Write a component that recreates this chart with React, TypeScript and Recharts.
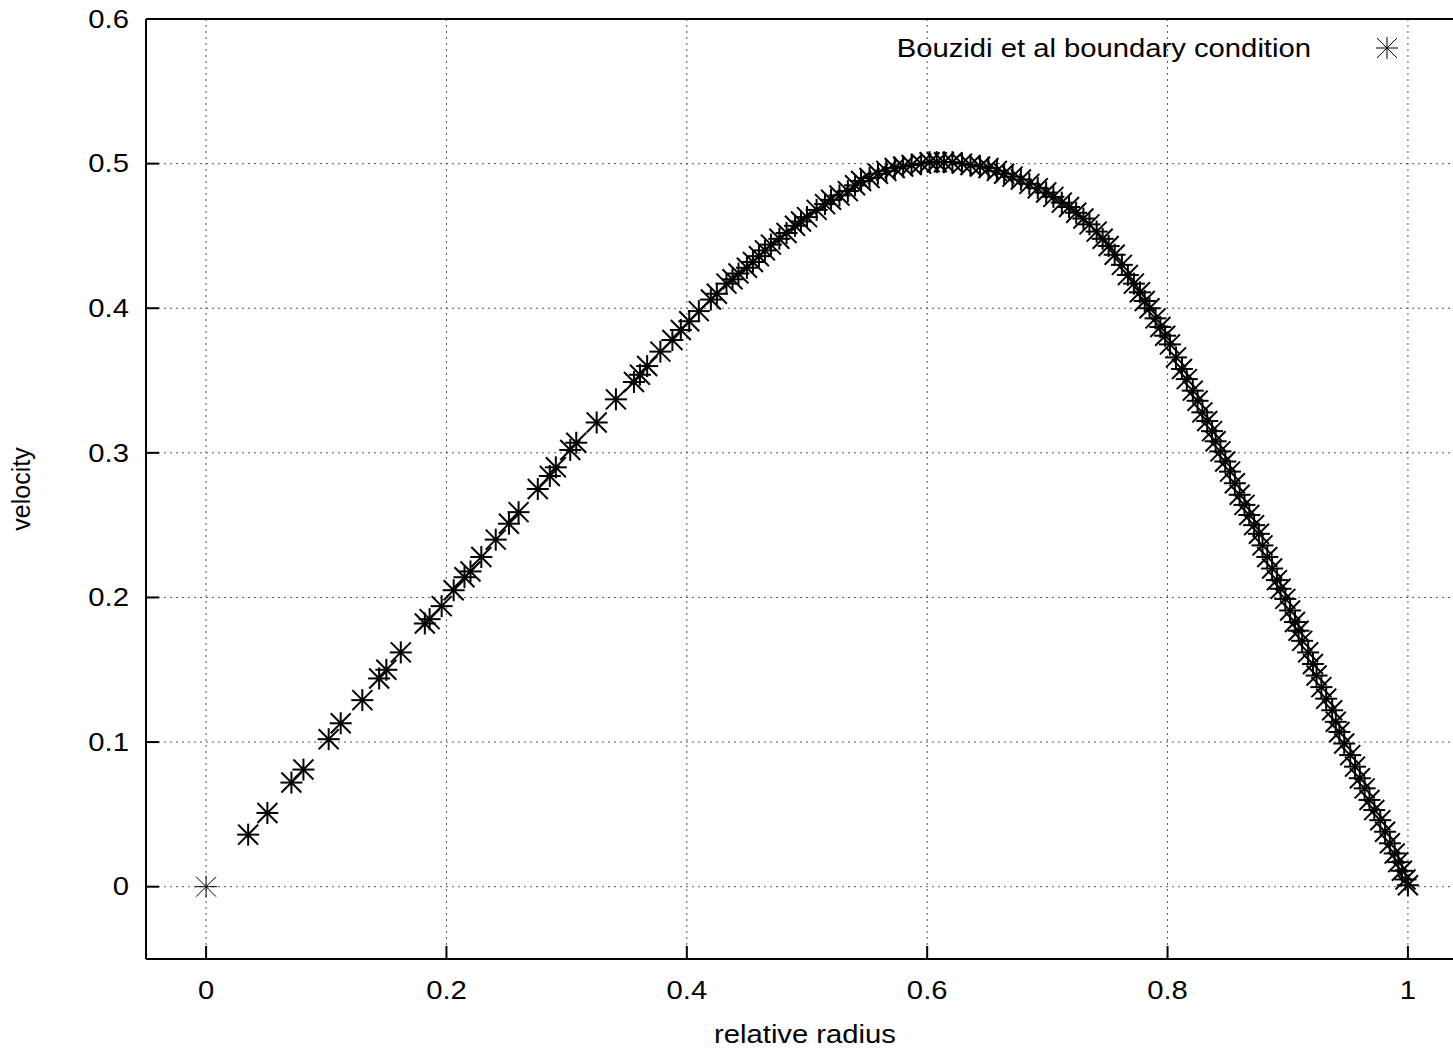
import React from "react";
import {
  ScatterChart,
  Scatter,
  XAxis,
  YAxis,
  CartesianGrid,
} from "recharts";

// relative radius / velocity pairs
const radius = [
  0, 0.035, 0.051, 0.071, 0.081, 0.102, 0.112, 0.13, 0.144, 0.15, 0.162,
  0.182, 0.186, 0.196, 0.206, 0.215, 0.22, 0.229, 0.241, 0.252, 0.26, 0.276,
  0.286, 0.291, 0.303, 0.308, 0.325, 0.341, 0.356, 0.361, 0.367, 0.378, 0.388,
  0.395, 0.402, 0.41, 0.42, 0.425, 0.433, 0.438, 0.443, 0.45, 0.455, 0.46,
  0.465, 0.47, 0.477, 0.483, 0.49, 0.495, 0.5, 0.508, 0.515, 0.52, 0.527,
  0.534, 0.54, 0.545, 0.552, 0.559, 0.566, 0.573, 0.58, 0.587, 0.595, 0.602,
  0.608, 0.614, 0.621, 0.629, 0.636, 0.644, 0.651, 0.658, 0.664, 0.671, 0.678,
  0.685, 0.692, 0.699, 0.705, 0.712, 0.718, 0.724, 0.73, 0.735, 0.741, 0.746,
  0.751, 0.756, 0.762, 0.767, 0.772, 0.777, 0.781, 0.785, 0.79, 0.794, 0.798,
  0.802, 0.807, 0.812, 0.816, 0.821, 0.825, 0.829, 0.833, 0.837, 0.84, 0.844,
  0.848, 0.852, 0.856, 0.86, 0.864, 0.868, 0.872, 0.876, 0.879, 0.883, 0.887,
  0.891, 0.894, 0.898, 0.902, 0.906, 0.909, 0.912, 0.917, 0.921, 0.924, 0.928,
  0.932, 0.937, 0.94, 0.943, 0.947, 0.952, 0.956, 0.96, 0.964, 0.968, 0.972,
  0.977, 0.981, 0.985, 0.989, 0.992, 0.995, 0.998, 1.0,
];

const velocity = [
  0, 0.036, 0.051, 0.072, 0.081, 0.102, 0.113, 0.129, 0.144, 0.15, 0.162,
  0.182, 0.185, 0.194, 0.205, 0.214, 0.218, 0.228, 0.24, 0.251, 0.259, 0.275,
  0.284, 0.29, 0.302, 0.307, 0.321, 0.337, 0.349, 0.354, 0.36, 0.37, 0.378,
  0.385, 0.391, 0.398, 0.406, 0.41, 0.417, 0.42, 0.424, 0.428, 0.432, 0.436,
  0.44, 0.444, 0.448, 0.452, 0.457, 0.46, 0.463, 0.468, 0.472, 0.475, 0.478,
  0.481, 0.485, 0.488, 0.49, 0.493, 0.495, 0.497, 0.498, 0.499, 0.5, 0.501,
  0.501, 0.501, 0.501, 0.5, 0.499, 0.498, 0.497, 0.495, 0.493, 0.491, 0.489,
  0.486, 0.483, 0.48, 0.477, 0.473, 0.47, 0.466, 0.462, 0.458, 0.453, 0.448,
  0.443, 0.437, 0.43, 0.423, 0.417, 0.411, 0.405, 0.4, 0.393, 0.387, 0.381,
  0.375, 0.366, 0.358, 0.351, 0.343, 0.336, 0.328, 0.322, 0.315, 0.308, 0.301,
  0.294, 0.287, 0.279, 0.271, 0.264, 0.257, 0.25, 0.244, 0.236, 0.228, 0.22,
  0.212, 0.206, 0.199, 0.191, 0.183, 0.177, 0.17, 0.162, 0.154, 0.146, 0.138,
  0.13, 0.122, 0.114, 0.107, 0.099, 0.091, 0.083, 0.075, 0.068, 0.06, 0.053,
  0.046, 0.038, 0.03, 0.023, 0.017, 0.011, 0.005, 0.001,
];

const xTicks = [0, 0.2, 0.4, 0.6, 0.8, 1];
const yTicks = [0, 0.1, 0.2, 0.3, 0.4, 0.5, 0.6];

const data = radius.map((r, i) => ({ r, v: velocity[i] }));

const FONT = "'Liberation Sans', Arial, Helvetica, sans-serif";
const FONT_SIZE = 25;
const STRETCH = 1.17; // original text is a bit wider than Arial
const TICK_LEN = 13;

function Star({ cx, cy, w = 1.5 }: { cx: number; cy: number; w?: number }) {
  const a = 11;
  const d = 10;
  return (
    <g stroke="#000" strokeWidth={w}>
      <line x1={cx - a} y1={cy} x2={cx + a} y2={cy} />
      <line x1={cx} y1={cy - a} x2={cx} y2={cy + a} />
      <line x1={cx - d} y1={cy - d} x2={cx + d} y2={cy + d} />
      <line x1={cx - d} y1={cy + d} x2={cx + d} y2={cy - d} />
    </g>
  );
}

const BottomTick = ({ x, y, payload }: any) => (
  <g>
    <line x1={x} y1={y} x2={x} y2={y - TICK_LEN} stroke="#000" strokeWidth={2} />
    <text
      transform={`translate(${x},${y + 31}) scale(${STRETCH},1)`}
      textAnchor="middle"
      dominantBaseline="central"
      fontFamily={FONT}
      fontSize={FONT_SIZE}
      fill="#000"
    >
      {payload.value}
    </text>
  </g>
);

const TopTick = ({ x, y }: any) => (
  <line x1={x} y1={y} x2={x} y2={y + TICK_LEN} stroke="#000" strokeWidth={2} />
);

const LeftTick = ({ x, y, payload }: any) => (
  <g>
    <line x1={x} y1={y} x2={x + TICK_LEN} y2={y} stroke="#000" strokeWidth={2} />
    <text
      transform={`translate(${x - 17},${y}) scale(${STRETCH},1)`}
      textAnchor="end"
      dominantBaseline="central"
      fontFamily={FONT}
      fontSize={FONT_SIZE}
      fill="#000"
    >
      {payload.value}
    </text>
  </g>
);

const RightTick = ({ x, y }: any) => (
  <line x1={x} y1={y} x2={x - TICK_LEN} y2={y} stroke="#000" strokeWidth={2} />
);

const axisLine = { stroke: "#000", strokeWidth: 2 };

export default function App() {
  return (
    <div
      style={{
        position: "absolute",
        left: 0,
        top: 0,
        width: 1453,
        height: 1049,
        overflow: "hidden",
        background: "#fff",
      }}
    >
      <ScatterChart
        width={1500}
        height={1049}
        margin={{ top: 0, right: 0, bottom: 0, left: 0 }}
      >
        <CartesianGrid
          stroke="#555"
          strokeWidth={1}
          strokeDasharray="2 4"
          horizontalValues={yTicks}
          verticalValues={xTicks}
        />
        <XAxis
          type="number"
          dataKey="r"
          domain={[-0.05, 1.05]}
          ticks={xTicks}
          height={90}
          tickSize={0}
          tickMargin={0}
          tickLine={false}
          axisLine={axisLine}
          tick={<BottomTick />}
          allowDataOverflow
          label={{
            content: ({ viewBox }: any) => (
              <text
                transform={`translate(${viewBox.x + viewBox.width / 2 - 2},1043) scale(${STRETCH},1)`}
                textAnchor="middle"
                fontFamily={FONT}
                fontSize={FONT_SIZE}
                fill="#000"
              >
                relative radius
              </text>
            ),
          }}
        />
        <XAxis
          xAxisId="top"
          orientation="top"
          type="number"
          domain={[-0.05, 1.05]}
          ticks={xTicks}
          height={19}
          tickSize={0}
          tickMargin={0}
          tickLine={false}
          axisLine={axisLine}
          tick={<TopTick />}
          allowDataOverflow
        />
        <YAxis
          type="number"
          dataKey="v"
          domain={[-0.05, 0.6]}
          ticks={yTicks}
          width={146}
          tickSize={0}
          tickMargin={0}
          tickLine={false}
          axisLine={axisLine}
          tick={<LeftTick />}
          allowDataOverflow
          label={{
            content: ({ viewBox }: any) => {
              const cy = viewBox.y + viewBox.height / 2;
              return (
                <text
                  transform={`translate(30,${cy}) rotate(-90)`}
                  textAnchor="middle"
                  fontFamily={FONT}
                  fontSize={FONT_SIZE}
                  fill="#000"
                >
                  velocity
                </text>
              );
            },
          }}
        />
        <YAxis
          yAxisId="right"
          orientation="right"
          type="number"
          domain={[-0.05, 0.6]}
          ticks={yTicks}
          width={32}
          tickSize={0}
          tickMargin={0}
          tickLine={false}
          axisLine={axisLine}
          tick={<RightTick />}
          allowDataOverflow
        />
        <Scatter
          name="Bouzidi et al boundary condition"
          data={data}
          isAnimationActive={false}
          shape={(p: any) => <Star cx={p.cx} cy={p.cy} w={p.index === 0 ? 1 : 2} />}
        />
      </ScatterChart>
      <svg
        width={1453}
        height={90}
        style={{ position: "absolute", left: 0, top: 0, pointerEvents: "none" }}
      >
        <text
          transform={`translate(1311,48) scale(${STRETCH},1)`}
          textAnchor="end"
          dominantBaseline="central"
          fontFamily={FONT}
          fontSize={FONT_SIZE}
          fill="#000"
        >
          Bouzidi et al boundary condition
        </text>
        <Star cx={1387} cy={48} w={1} />
      </svg>
    </div>
  );
}
